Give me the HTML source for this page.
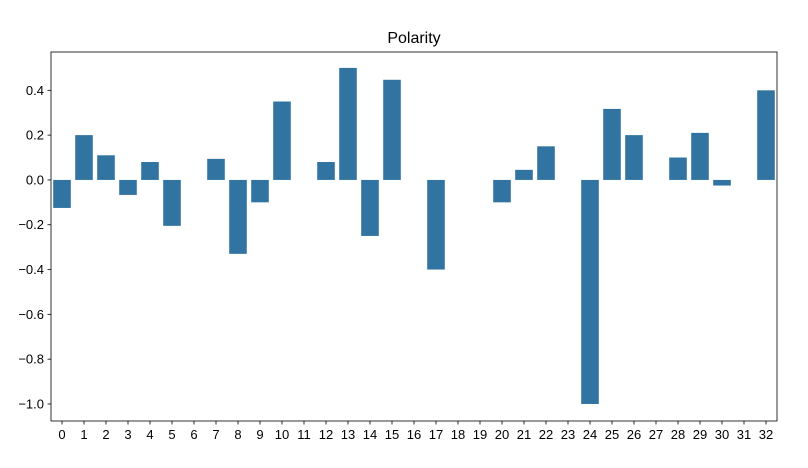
<!DOCTYPE html>
<html><head><meta charset="utf-8">
<style>body{margin:0;background:#fff;font-family:"Liberation Sans","DejaVu Sans",sans-serif;}</style>
</head><body>
<svg id="chart" width="808" height="463" xmlns="http://www.w3.org/2000/svg">
<rect width="808" height="463" fill="#fff"/>
<text x="414" y="43" font-size="16" text-anchor="middle" fill="#000">Polarity</text>
<g id="bars"></g><g id="axes"></g>
</svg>
<script>
const categories=["0","1","2","3","4","5","6","7","8","9","10","11","12","13","14","15","16","17","18","19","20","21","22","23","24","25","26","27","28","29","30","31","32"];
const values=[-0.125,0.2,0.11,-0.067,0.08,-0.205,0,0.094,-0.33,-0.1,0.35,0,0.08,0.5,-0.25,0.447,0,-0.4,0,0,-0.1,0.045,0.15,0,-1.0,0.317,0.2,0,0.1,0.21,-0.025,0,0.4];
const yTicks=[-1.0,-0.8,-0.6,-0.4,-0.2,0.0,0.2,0.4];
const L=51,R=777,T=52,B=421,yMin=-1.076,yMax=0.571;
const ns="http://www.w3.org/2000/svg";
const y=v=>T+(yMax-v)/(yMax-yMin)*(B-T);
const band=(R-L)/categories.length;
const x=i=>L+i*band;
const bars=document.getElementById('bars'),axes=document.getElementById('axes');
function mk(t,a,p){const e=document.createElementNS(ns,t);for(const k in a)e.setAttribute(k,a[k]);p.appendChild(e);return e;}
values.forEach((v,i)=>{
 const r=mk('rect',{x:x(i)+band*0.1,y:Math.min(y(v),y(0)),width:band*0.8,height:Math.abs(y(v)-y(0)),fill:'#3274a1'},bars);
 
 
});
const fr=mk('rect',{x:L,y:T,width:R-L,height:B-T,fill:'none',stroke:'#000','stroke-width':0.8},axes);


yTicks.forEach(t=>{
 const yy=y(t);
 mk('line',{x1:L-3.5,x2:L,y1:yy,y2:yy,stroke:'#000','stroke-width':0.8},axes);
 const tx=mk('text',{x:L-7,y:yy+4.5,'font-size':13,'text-anchor':'end',fill:'#000'},axes);
 tx.textContent=(t<0?'\u22120':'0')+'.'+Math.round(Math.abs(t)*10)+'';
 tx.textContent=(t<0?'\u2212':'')+Math.abs(t).toFixed(1);
 
 
});
categories.forEach((c,i)=>{
 const xx=x(i)+band/2;
 mk('line',{x1:xx,x2:xx,y1:B,y2:B+3.5,stroke:'#000','stroke-width':0.8},axes);
 const tx=mk('text',{x:xx,y:B+18,'font-size':13,'text-anchor':'middle',fill:'#000'},axes);
 tx.textContent=c;
 
 
});
</script>
</body></html>
